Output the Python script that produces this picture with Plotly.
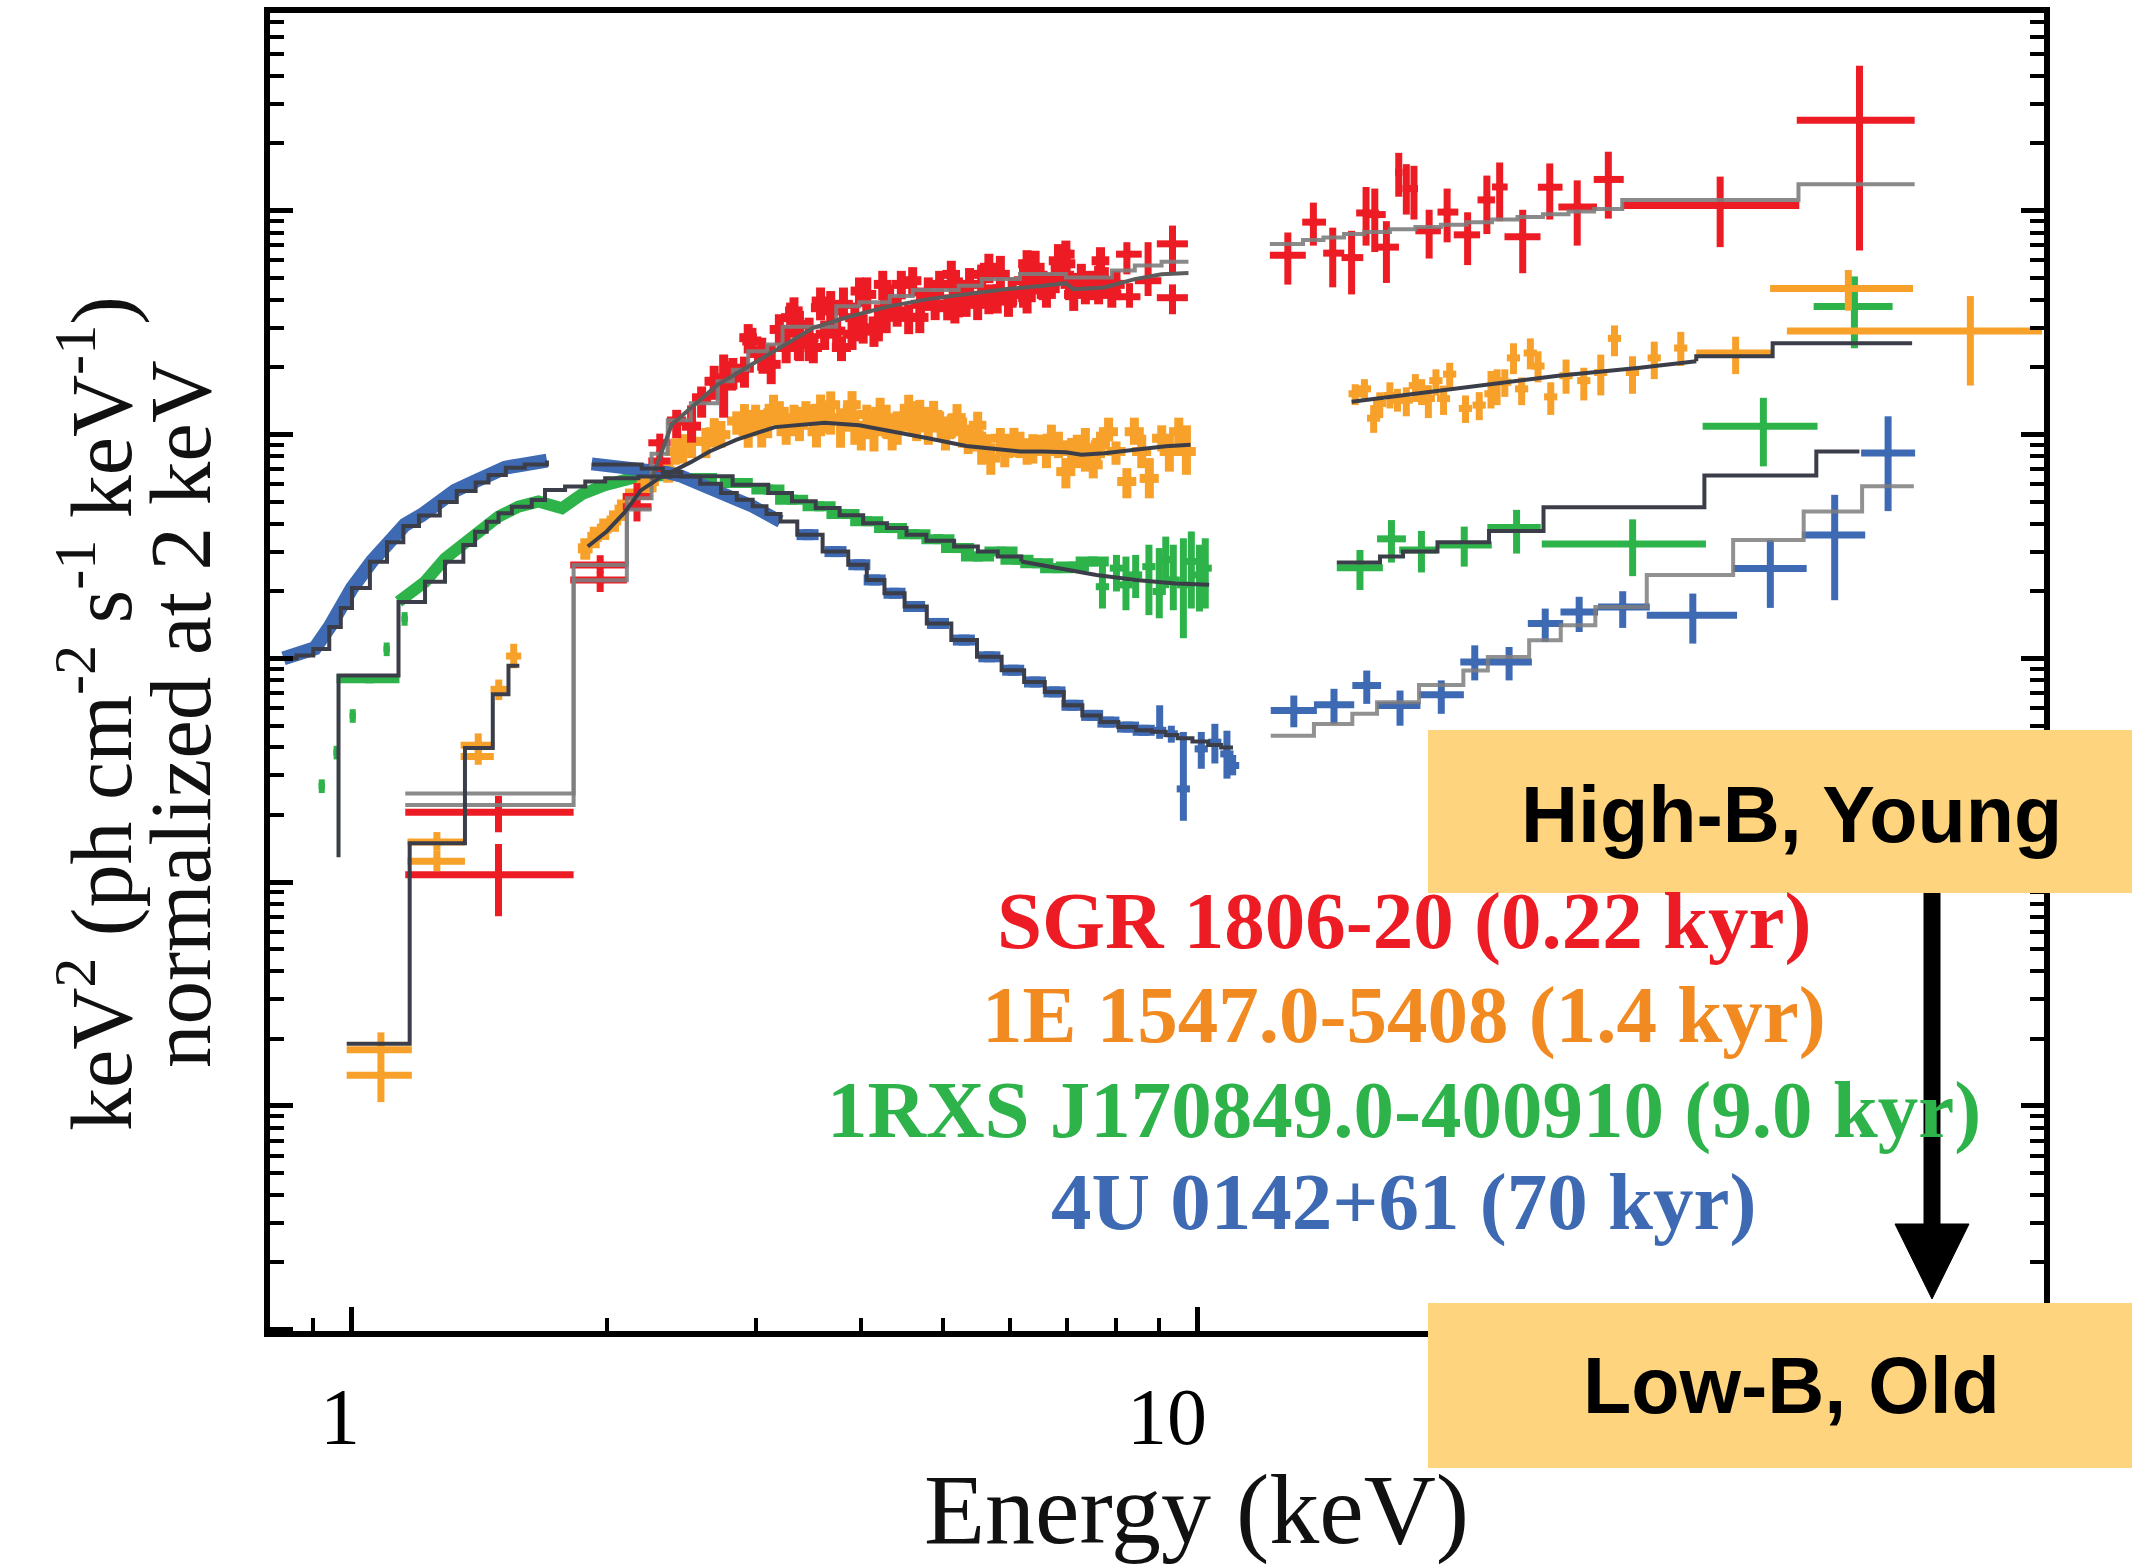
import math
import plotly.graph_objects as go

# ======================= DATA (keV, keV^2 flux normalised) =======================
# ---- SGR 1806-20 (red) ----
red_low_E   = [1.49, 1.49, 1.965, 1.965, 2.172, 2.172, 2.311, 2.311]
red_low_Elo = [1.156, 1.156, 1.811, 1.811, 2.09, 2.09, 2.24, 2.24]
red_low_Ehi = [1.828, 1.828, 2.113, 2.113, 2.26, 2.26, 2.38, 2.38]
red_low_F   = [0.205, 0.108, 2.61, 2.24, 5.29, 4.76, 9.19, 7.62]
red_low_Flo = [0.167, 0.0704, 2.40, 1.98, 4.90, 4.09, 8.30, 6.80]
red_low_Fhi = [0.243, 0.148, 2.89, 2.45, 6.07, 5.10, 10.1, 8.50]

red_mid_E = [2.42, 2.52, 2.59, 2.68, 2.75, 2.82, 2.91, 2.97, 3.05, 3.13, 3.20, 3.30, 3.38, 3.47, 3.58,
             3.68, 3.79, 3.81, 3.93, 4.06, 4.19, 4.32, 4.46, 4.55, 4.70, 4.80, 4.95, 5.06, 5.21, 5.37,
             5.55, 5.66, 5.84, 6.03, 6.22, 6.42, 6.62, 6.84, 6.98, 7.13, 7.36, 7.63, 7.91]
red_mid_F = [11.5, 10.9, 14.6, 17.3, 17.9, 17.9, 19.8, 26.2, 23.7, 20.6, 29.5, 33.3, 31.0, 27.1, 36.9,
             35.7, 24.5, 38.2, 33.3, 42.3, 32.2, 39.5, 46.9, 33.4, 38.2, 42.3, 46.9, 36.9, 42.3, 46.9,
             52.0, 40.9, 52.0, 42.3, 48.7, 55.9, 42.3, 59.8, 58.0, 42.3, 45.4, 50.4, 42.3]
red_mid_Flo = [9.64, 9.2, 11.9, 14.3, 11.9, 15.9, 16.2, 22.0, 19.3, 16.8, 25.3, 27.1, 21.3, 21.3, 32.4,
               29.1, 21.3, 32.4, 26.1, 34.8, 26.1, 33.4, 40.2, 28.1, 32.4, 35.7, 40.2, 32.4, 33.4, 38.2,
               42.3, 34.5, 42.3, 36.9, 36.9, 42.3, 36.9, 50.4, 47.1, 35.7, 38.2, 38.2, 36.9]
red_mid_Fhi = [12.9, 13.5, 16.4, 20.3, 22.8, 22.0, 22.3, 30.0, 27.1, 25.3, 34.5, 38.9, 35.7, 33.3, 40.2,
               43.8, 27.5, 45.4, 38.9, 50.4, 38.2, 46.9, 53.9, 38.2, 45.4, 50.4, 53.9, 42.3, 50.4, 55.5,
               57.5, 46.9, 62.9, 50.4, 57.5, 66.3, 50.4, 71.0, 67.3, 50.4, 53.9, 56.8, 48.7]
red_cloud_E = [2.81, 3.06, 3.26, 3.37, 3.51, 3.62, 3.74, 3.90, 4.02, 4.14, 4.28, 4.41, 4.69, 4.89, 5.16,
               5.32, 5.49, 5.79, 5.97, 6.28, 6.56, 6.78, 7.05, 7.28, 7.52, 7.75, 8.00,
               2.94, 3.33, 3.58, 3.98, 4.24, 4.60, 5.11, 5.66, 6.28, 6.98, 7.67]
red_cloud_F = [18.5, 22.0, 24.5, 25.3, 24.5, 28.1, 29.0, 28.1, 30.0, 29.0, 33.4, 35.7, 33.4, 38.2, 36.9,
               39.5, 38.2, 40.9, 39.5, 40.9, 46.9, 50.4, 46.9, 50.4, 46.9, 48.7, 46.9,
               27.1, 35.7, 39.5, 43.8, 46.9, 48.7, 52.0, 55.9, 58.0, 64.0, 59.8]
red_edge_E   = [8.24, 8.30, 8.73, 9.33, 9.33]
red_edge_Elo = [8.00, 8.05, 8.42, 8.94, 8.94]
red_edge_Ehi = [8.58, 8.55, 9.05, 9.73, 9.73]
red_edge_F   = [64.0, 41.3, 48.7, 71.2, 40.9]
red_edge_Flo = [52.0, 36.9, 41.6, 52.0, 34.5]
red_edge_Fhi = [72.4, 47.5, 72.4, 85.9, 46.9]
red_hi_E   = [12.77, 13.69, 14.43, 15.19, 15.80, 16.18, 16.70, 17.27, 17.63, 18.00, 18.76, 19.70, 20.83,
              21.95, 22.73, 24.20, 26.05, 28.07, 30.55, 41.42, 60.52]
red_hi_Elo = [12.16, 13.28, 14.06, 14.78, 15.38, 15.80, 16.25, 17.11, 17.45, 17.80, 18.07, 19.19, 20.06,
              21.40, 22.26, 23.03, 25.22, 26.67, 29.36, 31.73, 51.02]
red_hi_Ehi = [13.41, 14.17, 14.89, 15.68, 16.36, 16.67, 17.28, 17.44, 17.80, 18.20, 19.37, 20.31, 21.55,
              22.45, 23.23, 25.40, 26.97, 29.62, 31.86, 51.38, 70.33]
red_hi_F   = [63.3, 89.0, 64.7, 61.8, 97.8, 96.2, 68.8, 148.6, 125.7, 125.7, 81.4, 98.7, 78.1, 111.9,
              127.8, 76.6, 127.5, 103.9, 138.1, 105.6, 254.1]
red_hi_Flo = [46.8, 69.9, 45.5, 42.3, 69.9, 65.4, 47.6, 115.6, 96.2, 91.4, 61.2, 72.3, 57.2, 78.7,
              89.9, 52.6, 91.4, 69.9, 92.3, 68.8, 66.5]
red_hi_Fhi = [80.0, 108.8, 84.1, 81.4, 127.8, 125.7, 89.9, 181.6, 161.6, 158.9, 101.1, 125.7, 98.5, 143.7,
              164.4, 101.1, 162.8, 136.8, 183.7, 142.2, 444.8]
# red models
red_mdlA_E = [1.156, 1.828, 2.113, 2.26, 2.362, 2.515, 2.705, 2.819, 2.940, 3.097, 3.228, 3.736, 3.977,
              4.322, 4.601, 5.214, 5.552, 6.160, 6.980, 7.911, 8.420, 9.056, 9.744]
red_mdlA_F = [0.249, 2.61, 5.2, 8.2, 11.6, 13.8, 17.3, 19.5, 23.6, 25.3, 30.3, 37.5, 39.0,
              41.6, 44.3, 46.3, 49.6, 52.2, 50.4, 54.1, 57.0, 59.2, 59.2]
red_mdlB_low_E = [1.156, 1.828, 2.113, 2.26]
red_mdlB_low_F = [0.221, 2.236, 4.62, 4.62]
red_mdlB_E = [2.26, 2.387, 2.705, 3.162, 3.51, 3.895, 4.322, 4.797, 5.323, 5.908, 6.558, 6.98, 7.126,
              7.745, 8.42, 9.056, 9.744]
red_mdlB_F = [6.3, 11.07, 16.7, 23.6, 30.0, 33.9, 37.5, 40.3, 42.3, 44.6, 46.2, 47.5, 44.6,
              45.4, 49.5, 52.1, 52.7]
red_mdl_hi_E = [12.16, 13.31, 14.07, 14.88, 15.73, 16.86, 18.07, 19.37, 20.77, 22.26, 23.86, 25.57,
                27.41, 29.39, 31.73, 51.26, 70.33]
red_mdl_hi_F = [71.1, 74.1, 76.0, 78.7, 80.5, 82.8, 84.6, 86.7, 89.0, 91.4, 93.9, 96.4,
                99.2, 101.8, 111.7, 131.3, 131.3]

# ---- 1E 1547.0-5408 (orange) ----
or_low_E   = [1.082, 1.082, 1.26, 1.26, 1.410, 1.410, 1.491, 1.553]
or_low_Elo = [0.9857, 0.9857, 1.163, 1.163, 1.344, 1.344, 1.458, 1.521]
or_low_Ehi = [1.177, 1.177, 1.360, 1.360, 1.471, 1.471, 1.536, 1.585]
or_low_F   = [0.0178, 0.0137, 0.1513, 0.1238, 0.409, 0.364, 0.727, 1.024]
or_low_Flo = [0.0157, 0.0104, 0.138, 0.1119, 0.38, 0.3345, 0.651, 0.903]
or_low_Fhi = [0.0213, 0.0157, 0.1674, 0.138, 0.462, 0.39, 0.804, 1.162]
or_band_E = [1.887, 1.936, 1.987, 2.04, 2.085, 2.131, 2.20, 2.26, 2.365]
or_band_F = [3.10, 3.49, 3.80, 4.13, 4.62, 5.17, 5.78, 6.20, 6.85]
or_mid_E = [2.41, 2.52, 2.62, 2.73, 2.85, 2.94, 3.00, 3.10, 3.20, 3.26, 3.33, 3.44, 3.51, 3.58, 3.68,
            3.78, 3.85, 3.93, 4.06, 4.14, 4.28, 4.41, 4.51, 4.60, 4.69, 4.80, 4.95, 5.11, 5.27, 5.44,
            5.55, 5.69, 5.84, 5.97, 6.16, 6.28, 6.48, 6.62, 6.84, 6.98, 7.20, 7.36, 7.52, 7.67, 7.84,
            8.00, 8.24, 8.41, 8.58, 8.76, 9.06, 9.25, 9.49, 9.69]
or_mid_F = [8.40, 9.32, 9.32, 9.99, 11.5, 10.3, 12.3, 11.5, 12.7, 10.3, 11.9, 12.7, 11.9, 13.1, 13.6,
            11.9, 12.3, 11.0, 12.3, 10.3, 11.9, 11.0, 11.5, 12.3, 12.7, 10.7, 11.5, 11.0, 10.3, 9.99,
            9.0, 7.85, 9.63, 8.73, 9.0, 8.40, 9.0, 8.40, 9.0, 6.83, 8.12, 8.73, 7.33, 9.0, 10.3,
            8.40, 6.17, 10.3, 8.40, 6.37, 9.63, 8.40, 10.3, 8.40]
or_mid_Flo = [7.33, 7.85, 7.85, 8.73, 9.99, 8.73, 10.3, 9.63, 11.0, 9.0, 10.3, 11.0, 10.3, 11.5, 9.99,
              8.73, 10.3, 9.0, 10.3, 8.40, 9.63, 9.0, 10.3, 9.99, 10.3, 9.0, 10.3, 9.63, 8.73, 8.40,
              7.33, 6.61, 8.40, 7.85, 7.85, 7.33, 8.12, 7.08, 7.85, 5.75, 7.08, 6.83, 6.37, 7.85, 9.32,
              7.33, 5.19, 9.0, 7.08, 5.19, 8.40, 6.83, 8.73, 6.61]
or_mid_Fhi = [9.63, 10.7, 10.7, 11.5, 12.7, 11.9, 13.6, 13.1, 14.1, 12.3, 13.6, 14.1, 13.6, 15.1, 15.6,
              13.1, 13.6, 12.7, 13.6, 12.3, 13.6, 12.7, 13.1, 14.1, 14.3, 12.7, 12.7, 12.3, 11.9, 11.5,
              10.3, 9.0, 10.7, 9.99, 10.3, 9.63, 9.99, 9.32, 10.3, 7.85, 9.99, 10.7, 8.40, 10.3, 11.9,
              9.32, 7.08, 11.9, 9.99, 7.85, 11.0, 9.99, 11.9, 11.0]
or_cloud_E = [2.46, 2.68, 2.91, 3.05, 3.15, 3.38, 3.54, 3.62, 3.90, 4.00, 4.21, 4.35, 4.55, 4.65, 4.87,
              5.03, 5.19, 5.35, 5.49, 5.63, 5.91, 6.06, 6.38, 6.71, 7.09, 7.59]
or_cloud_F = [8.73, 10.3, 11.9, 10.3, 13.1, 11.0, 10.3, 11.9, 13.6, 9.99, 12.7, 9.99, 13.1, 11.0, 12.3,
              9.99, 11.9, 9.63, 11.0, 8.73, 8.40, 9.32, 8.73, 9.63, 8.40, 8.40]
or_hi_E = [15.34, 15.73, 16.13, 16.40, 16.86, 17.21, 17.63, 18.07, 18.38, 18.72, 19.11, 19.51, 19.84,
           20.71, 21.50, 22.20, 22.57, 23.05, 23.60, 24.13, 24.71, 25.23, 26.12, 27.23, 28.58, 29.93,
           31.07, 32.63, 34.62, 37.21]
or_hi_F = [15.22, 16.01, 11.84, 13.77, 14.96, 14.25, 14.25, 16.56, 15.48, 14.49, 17.42, 14.49, 18.63,
           13.09, 13.54, 15.22, 17.42, 17.12, 22.01, 16.01, 23.15, 20.24, 14.74, 18.32, 17.42, 18.94,
           26.91, 18.94, 22.01, 24.36]
or_hi_Flo = [13.54, 14.49, 10.18, 11.85, 13.08, 12.66, 12.07, 13.99, 13.54, 11.85, 14.96, 12.24, 16.03,
             11.27, 11.60, 13.08, 13.54, 14.74, 18.63, 13.54, 19.57, 17.12, 12.24, 15.22, 14.21, 14.96,
             22.39, 15.22, 17.69, 20.24]
or_hi_Fhi = [16.79, 17.69, 13.54, 15.45, 17.12, 16.01, 16.26, 18.63, 17.69, 16.62, 19.57, 16.56, 20.93,
             14.96, 15.48, 19.24, 19.57, 19.57, 25.59, 18.01, 26.91, 23.55, 17.12, 21.64, 19.90, 22.77,
             30.74, 22.39, 26.02, 28.78]
or_big_E   = [43.20, 58.71, 81.84]
or_big_Elo = [38.81, 47.45, 49.67]
or_big_Ehi = [47.78, 70.02, 99.45]
or_big_F   = [23.15, 44.93, 29.06]
or_big_Flo = [18.63, 35.79, 16.56]
or_big_Fhi = [27.37, 54.37, 41.59]
or_mdl_low_E = [0.9857, 1.170, 1.360, 1.467, 1.531, 1.577]
or_mdl_low_F = [0.01894, 0.149, 0.3976, 0.691, 0.926, 0.926]
or_mdl_E = [1.90, 2.0, 2.1, 2.195, 2.317, 2.515, 2.646, 2.849, 3.162, 3.62, 3.977, 4.322, 4.797, 5.323,
            5.79, 6.16, 6.56, 6.98, 7.28, 7.75, 8.42, 9.16, 9.80]
or_mdl_F = [3.16, 3.69, 4.49, 5.63, 6.45, 7.53, 8.40, 9.49, 10.8, 11.3, 11.0, 10.4, 9.63, 8.90,
            8.56, 8.40, 8.40, 8.33, 8.12, 8.26, 8.56, 8.87, 9.00]
or_mdl_hi_E = [15.19, 20.18, 26.66, 33.30, 38.81]
or_mdl_hi_F = [14.01, 16.01, 18.32, 19.90, 21.29]
or_mdl_hi2_E = [38.81, 38.81, 47.78, 69.84]
or_mdl_hi2_F = [21.29, 22.39, 25.62, 25.62]

# ---- 1RXS J170849.0-400910 (green) ----
gr_dot_E = [0.921, 0.959, 1.002, 1.099, 1.154]
gr_dot_F = [0.269, 0.380, 0.554, 1.10, 1.504]
gr_plat_E, gr_plat_Elo, gr_plat_Ehi, gr_plat_F = [1.049], [0.959], [1.138], [0.81]
gr_band_E = [1.135, 1.220, 1.288, 1.348, 1.411, 1.490, 1.573, 1.661, 1.771, 1.869, 1.990, 2.181, 2.388]
gr_band_F = [1.79, 2.20, 2.79, 3.21, 3.74, 4.30, 4.76, 5.02, 4.69, 5.41, 5.94, 6.50, 6.61]
gr_bin_E = [2.585, 2.849, 3.105, 3.312, 3.569, 3.809, 4.063, 4.335, 4.62, 4.932, 5.203, 5.493, 5.856,
            6.116, 6.455, 6.813, 7.112, 7.506]
gr_bin_F = [6.40, 6.08, 5.68, 5.12, 4.78, 4.42, 4.10, 3.82, 3.59, 3.41, 3.11, 2.85, 3.00,
            2.76, 2.66, 2.53, 2.57, 2.71]
gr_tail_E = [7.71, 8.01, 8.22, 8.44, 8.75, 9.0, 9.16, 9.35, 9.61, 9.82, 10.04, 10.20]
gr_tail_F = [2.09, 2.53, 2.13, 2.36, 2.57, 1.99, 2.76, 2.24, 2.13, 2.71, 2.36, 2.53]
gr_tail_Flo = [1.67, 1.99, 1.64, 1.86, 1.56, 1.51, 2.06, 1.64, 1.23, 1.67, 1.62, 1.67]
gr_tail_Fhi = [2.71, 2.90, 2.85, 2.90, 3.22, 3.11, 3.50, 3.22, 3.44, 3.69, 3.22, 3.44]
gr_hi_E   = [15.54, 16.93, 18.37, 20.64, 23.80, 32.64, 46.59, 59.69]
gr_hi_Elo = [14.59, 16.28, 17.29, 19.19, 21.98, 25.49, 39.49, 53.42]
gr_hi_Ehi = [16.54, 17.61, 19.19, 22.25, 25.42, 39.85, 53.99, 66.23]
gr_hi_F   = [2.54, 3.42, 3.05, 3.21, 3.84, 3.24, 10.9, 37.37]
gr_hi_Flo = [2.02, 2.68, 2.42, 2.57, 2.94, 2.33, 7.21, 24.3]
gr_hi_Fhi = [3.05, 4.15, 3.71, 3.88, 4.61, 4.18, 14.6, 50.9]
gr_mdl_low_E = [0.964, 0.964, 1.135, 1.220, 1.288, 1.354, 1.398, 1.443, 1.490, 1.545, 1.631, 1.691, 1.786,
                1.887, 1.992, 2.181, 2.388]
gr_mdl_low_F = [0.129, 0.838, 1.788, 2.198, 2.70, 3.21, 3.68, 4.08, 4.45, 4.76, 5.10, 5.66, 5.86,
                6.17, 6.38, 6.50, 6.50]
gr_mdl_mid_E = [2.373, 2.818, 3.105, 3.312, 3.533, 3.770, 4.020, 4.289, 4.524, 4.775, 5.149, 5.493, 5.798, 6.183]
gr_mdl_mid_F = [6.52, 5.97, 5.48, 5.03, 4.70, 4.36, 4.02, 3.82, 3.57, 3.35, 3.16, 3.00, 2.85, 2.71]
gr_mdl_sm_E = [6.183, 6.813, 7.585, 8.446, 9.41, 10.31]
gr_mdl_sm_F = [2.71, 2.53, 2.36, 2.24, 2.16, 2.13]
gr_mdl_hi_E = [14.59, 16.41, 17.47, 19.19, 22.08, 25.61, 39.68, 53.81, 60.51]
gr_mdl_hi_F = [2.68, 2.85, 3.00, 3.30, 3.71, 4.74, 6.56, 8.41, 8.41]

# ---- 4U 0142+61 (blue) ----
bl_low_E = [0.83, 0.849, 0.904, 0.942, 0.965, 1.0, 1.056, 1.106, 1.155, 1.21, 1.267, 1.323, 1.386, 1.452,
            1.517, 1.588, 1.70]
bl_low_F = [1.00, 1.02, 1.11, 1.39, 1.68, 2.06, 2.72, 3.35, 3.95, 4.38, 5.06, 5.61, 6.09, 6.62,
            7.11, 7.33, 7.65]
bl_band_E = [1.92, 2.0, 2.08, 2.18, 2.28, 2.36, 2.45, 2.58, 2.73, 2.85, 2.976, 3.09, 3.21]
bl_band_F = [7.4, 7.3, 7.2, 7.05, 6.95, 6.75, 6.52, 6.03, 5.48, 5.12, 4.78, 4.42, 4.09]
bl_bin_E = [3.457, 3.73, 3.98, 4.15, 4.38, 4.62, 4.93, 5.29, 5.67, 6.05, 6.42, 6.77, 7.11, 7.50, 7.84,
            8.27, 8.63]
bl_bin_F = [3.57, 3.00, 2.62, 2.24, 1.954, 1.705, 1.432, 1.207, 1.016, 0.885, 0.784, 0.708, 0.617,
            0.556, 0.519, 0.493, 0.477]
bl_tail_E = [9.01, 9.30, 9.61, 10.09, 10.47, 10.82, 10.99]
bl_tail_F = [0.477, 0.46, 0.261, 0.394, 0.422, 0.374, 0.332]
bl_tail_Flo = [0.437, 0.42, 0.188, 0.321, 0.339, 0.29, 0.30]
bl_tail_Fhi = [0.617, 0.50, 0.469, 0.469, 0.51, 0.475, 0.37]
bl_hi_E   = [12.98, 14.48, 15.83, 17.33, 19.39, 21.24, 23.32, 25.73, 28.22, 31.77, 38.45, 47.48, 56.57, 65.42]
bl_hi_Elo = [12.19, 13.71, 15.22, 16.27, 18.25, 20.42, 22.08, 24.54, 26.82, 29.71, 33.92, 42.91, 51.74, 60.79]
bl_hi_Ehi = [13.82, 15.30, 16.46, 18.32, 20.62, 22.08, 24.81, 27.02, 29.71, 34.2, 43.37, 52.42, 61.47, 70.41]
bl_hi_F   = [0.584, 0.62, 0.756, 0.615, 0.687, 0.963, 0.963, 1.431, 1.612, 1.698, 1.558, 2.523, 3.56, 8.27]
bl_hi_Flo = [0.492, 0.51, 0.626, 0.50, 0.565, 0.797, 0.797, 1.184, 1.311, 1.368, 1.164, 1.681, 1.819, 4.55]
bl_hi_Fhi = [0.682, 0.731, 0.882, 0.718, 0.797, 1.143, 1.124, 1.669, 1.884, 1.995, 1.948, 3.38, 5.38, 12.07]
bl_mdl_low_E = [0.83, 0.86, 0.9, 0.94, 0.97, 1.0, 1.05, 1.1, 1.15, 1.2, 1.27, 1.33, 1.4, 1.45, 1.52, 1.6, 1.7]
bl_mdl_low_F = [1.0, 1.03, 1.1, 1.38, 1.68, 2.06, 2.7, 3.3, 3.9, 4.35, 5.0, 5.6, 6.1, 6.6, 7.1, 7.35, 7.65]
bl_mdl_E = [1.92, 2.2, 2.33, 2.45, 2.58, 2.73, 2.85, 2.976, 3.09, 3.21, 3.36, 3.60, 3.86, 4.06, 4.26, 4.50,
            4.78, 5.11, 5.48, 5.86, 6.23, 6.59, 6.94, 7.30, 7.67, 8.05, 8.45, 8.82, 9.15, 9.46, 9.85,
            10.28, 10.65, 11.0]
bl_mdl_F = [7.35, 7.05, 6.8, 6.5, 6.03, 5.48, 5.12, 4.78, 4.42, 4.09, 3.57, 3.00, 2.62, 2.24, 1.954, 1.705,
            1.432, 1.207, 1.016, 0.885, 0.784, 0.708, 0.617, 0.556, 0.519, 0.493, 0.477, 0.47, 0.455, 0.44,
            0.425, 0.41, 0.40, 0.40]
bl_mdl_hi_E = [12.19, 13.71, 15.22, 16.28, 18.25, 20.59, 22.01, 24.63, 26.84, 29.49, 33.92, 42.91, 51.99,
               60.95, 70.17]
bl_mdl_hi_F = [0.451, 0.509, 0.565, 0.637, 0.761, 0.882, 1.013, 1.204, 1.405, 1.698, 2.355, 3.38, 4.53,
               5.87, 5.87]

legend_labels = ["SGR 1806-20 (0.22 kyr)", "1E 1547.0-5408 (1.4 kyr)",
                 "1RXS J170849.0-400910 (9.0 kyr)", "4U 0142+61 (70 kyr)"]

# ======================= STYLE =======================
RED = "#ED1C24"; ORANGE = "#F7A12B"; GREEN = "#2DB34A"; BLUE = "#3E69B3"
OR_TXT = "#F28A22"
DARK = "#3B3E48"; GRAY = "#7E7E7E"; MIDGRAY = "#5C5C5C"
SERIF = "Liberation Serif"; SANS = "Liberation Sans"
W, H = 2132, 1565
L, R, T, B = 270, 88, 13, 234

fig = go.Figure()


def cross(E, F, Flo, Fhi, color, thick, Elo=None, Ehi=None, xpct=2.0):
    ey = dict(type="data", symmetric=False, array=[h - f for f, h in zip(F, Fhi)],
              arrayminus=[f - l for f, l in zip(F, Flo)], thickness=thick, width=0, color=color)
    if Elo is not None:
        ex = dict(type="data", symmetric=False, array=[h - e for e, h in zip(E, Ehi)],
                  arrayminus=[e - l for e, l in zip(E, Elo)], thickness=thick, width=0, color=color)
    else:
        ex = dict(type="percent", value=xpct, thickness=thick, width=0, color=color)
    fig.add_trace(go.Scatter(x=E, y=F, mode="markers", marker=dict(size=thick, color=color, symbol="square"),
                             error_x=ex, error_y=ey, showlegend=False, hoverinfo="skip"))


def pcross(E, F, color, thick, ypct, xpct):
    fig.add_trace(go.Scatter(x=E, y=F, mode="markers", marker=dict(size=thick, color=color, symbol="square"),
                             error_x=dict(type="percent", value=xpct, thickness=thick, width=0, color=color),
                             error_y=dict(type="percent", value=ypct, thickness=thick, width=0, color=color),
                             showlegend=False, hoverinfo="skip"))


def line(E, F, color, width, shape="linear", opacity=1.0):
    fig.add_trace(go.Scatter(x=E, y=F, mode="lines", line=dict(color=color, width=width, shape=shape),
                             opacity=opacity, showlegend=False, hoverinfo="skip"))


# ---- data traces ----
# green
pcross(gr_dot_E, gr_dot_F, GREEN, 6, 7, 0.8)
cross(gr_plat_E, gr_plat_F, [0.79], [0.83], GREEN, 9, gr_plat_Elo, gr_plat_Ehi)
line(gr_band_E, gr_band_F, GREEN, 12)
pcross(gr_bin_E, gr_bin_F, GREEN, 10, 3.5, 4.5)
cross(gr_tail_E, gr_tail_F, gr_tail_Flo, gr_tail_Fhi, GREEN, 7, xpct=1.8)
cross(gr_hi_E, gr_hi_F, gr_hi_Flo, gr_hi_Fhi, GREEN, 7, gr_hi_Elo, gr_hi_Ehi)
# orange
cross(or_low_E, or_low_F, or_low_Flo, or_low_Fhi, ORANGE, 7, or_low_Elo, or_low_Ehi)
pcross(or_band_E, or_band_F, ORANGE, 10, 11, 2.0)
pcross(or_cloud_E, or_cloud_F, ORANGE, 9, 15, 2.4)
cross(or_mid_E, or_mid_F, or_mid_Flo, or_mid_Fhi, ORANGE, 9, xpct=2.6)
cross(or_hi_E, or_hi_F, or_hi_Flo, or_hi_Fhi, ORANGE, 7, xpct=1.8)
cross(or_big_E, or_big_F, or_big_Flo, or_big_Fhi, ORANGE, 7, or_big_Elo, or_big_Ehi)
# blue
line(bl_low_E, bl_low_F, BLUE, 14)
line(bl_band_E, bl_band_F, BLUE, 13)
pcross(bl_bin_E, bl_bin_F, BLUE, 11, 3.5, 3.0)
cross(bl_tail_E, bl_tail_F, bl_tail_Flo, bl_tail_Fhi, BLUE, 7, xpct=1.8)
cross(bl_hi_E, bl_hi_F, bl_hi_Flo, bl_hi_Fhi, BLUE, 7, bl_hi_Elo, bl_hi_Ehi)
# red
cross(red_low_E, red_low_F, red_low_Flo, red_low_Fhi, RED, 7, red_low_Elo, red_low_Ehi)
pcross(red_cloud_E, red_cloud_F, RED, 9, 15, 2.4)
cross(red_mid_E, red_mid_F, red_mid_Flo, red_mid_Fhi, RED, 9, xpct=2.6)
cross(red_edge_E, red_edge_F, red_edge_Flo, red_edge_Fhi, RED, 7, red_edge_Elo, red_edge_Ehi)
cross(red_hi_E, red_hi_F, red_hi_Flo, red_hi_Fhi, RED, 7, red_hi_Elo, red_hi_Ehi)

# ---- model traces ----
line(red_mdlA_E, red_mdlA_F, GRAY, 4, "hv", 0.9)
line(red_mdlB_low_E, red_mdlB_low_F, GRAY, 4, "hv", 0.9)
line(red_mdlB_E, red_mdlB_F, MIDGRAY, 4)
line(red_mdl_hi_E, red_mdl_hi_F, GRAY, 4, "hv", 0.9)
line(or_mdl_low_E, or_mdl_low_F, DARK, 4, "hv")
line(or_mdl_E, or_mdl_F, DARK, 4)
line(or_mdl_hi_E, or_mdl_hi_F, DARK, 4)
line(or_mdl_hi2_E, or_mdl_hi2_F, DARK, 4, "hv")
line(gr_mdl_low_E, gr_mdl_low_F, DARK, 4, "hv")
line(gr_mdl_mid_E, gr_mdl_mid_F, DARK, 4, "hv")
line(gr_mdl_sm_E, gr_mdl_sm_F, DARK, 4)
line(gr_mdl_hi_E, gr_mdl_hi_F, DARK, 4, "hv")
line(bl_mdl_low_E, bl_mdl_low_F, DARK, 4, "hv")
line(bl_mdl_E, bl_mdl_F, DARK, 4, "hv")
line(bl_mdl_hi_E, bl_mdl_hi_F, GRAY, 4, "hv", 0.85)

# ======================= AXES =======================
x_minor = [0.9] + [m for m in range(2, 10)] + [10 * m for m in range(2, 10)]
y_major = [10.0 ** k for k in range(-3, 3)]
y_minor = [m * 10.0 ** k for k in range(-3, 3) for m in range(2, 10)]

fig.update_xaxes(type="log", range=[math.log10(0.8), 2.0], tickmode="array", tickvals=[1, 10, 100],
                 showticklabels=False, ticks="inside", ticklen=24, tickwidth=4.5, tickcolor="black",
                 showline=True, linewidth=6, linecolor="black", mirror=True, showgrid=False, zeroline=False,
                 minor=dict(tickmode="array", tickvals=x_minor, ticks="inside", ticklen=13, tickwidth=4,
                            tickcolor="black", showgrid=False))
fig.update_yaxes(type="log", range=[-3.006, 2.884], tickmode="array", tickvals=y_major,
                 showticklabels=False, ticks="inside", ticklen=23, tickwidth=4.5, tickcolor="black",
                 showline=True, linewidth=6, linecolor="black", mirror="allticks", showgrid=False,
                 zeroline=False,
                 minor=dict(tickmode="array", tickvals=y_minor, ticks="inside", ticklen=14, tickwidth=4,
                            tickcolor="black", showgrid=False))


def px(xp):
    return (xp - L) / (W - L - R)


def py(yp):
    return (H - B - yp) / (H - T - B)


ann = []
# tick labels
ann.append(dict(x=0, y=py(1417), xref="x", yref="paper", text="1", showarrow=False, xshift=-12,
                font=dict(family=SERIF, size=80, color="black"), xanchor="center", yanchor="middle"))
ann.append(dict(x=1, y=py(1417), xref="x", yref="paper", text="10", showarrow=False, xshift=-31,
                font=dict(family=SERIF, size=80, color="black"), xanchor="center", yanchor="middle"))
# axis titles
ann.append(dict(x=px(1196), y=py(1509), xref="paper", yref="paper", text="Energy (keV)", showarrow=False,
                font=dict(family=SERIF, size=100, color="#111111"), xanchor="center", yanchor="middle"))
ann.append(dict(x=px(95), y=py(714), xref="paper", yref="paper", textangle=-90,
                text="keV<sup>2</sup> (ph cm<sup>-2</sup> s<sup>-1</sup> keV<sup>-1</sup>)", showarrow=False,
                font=dict(family=SERIF, size=86, color="#111111"), xanchor="center", yanchor="middle"))
ann.append(dict(x=px(180), y=py(714), xref="paper", yref="paper", textangle=-90,
                text="normalized at 2 keV", showarrow=False,
                font=dict(family=SERIF, size=87, color="#111111"), xanchor="center", yanchor="middle"))
# source labels
for lbl, col, yy in zip(legend_labels, [RED, OR_TXT, GREEN, BLUE], [920.7, 1014.6, 1110.4, 1201.6]):
    ann.append(dict(x=px(1403.5), y=py(yy), xref="paper", yref="paper", text="<b>%s</b>" % lbl,
                    showarrow=False, font=dict(family=SERIF, size=81, color=col),
                    xanchor="center", yanchor="middle"))
# box labels
ann.append(dict(x=px(1791), y=py(814.6), xref="paper", yref="paper", text="<b>High-B, Young</b>",
                showarrow=False, font=dict(family=SANS, size=79, color="black"),
                xanchor="center", yanchor="middle"))
ann.append(dict(x=px(1791), y=py(1385), xref="paper", yref="paper", text="<b>Low-B, Old</b>",
                showarrow=False, font=dict(family=SANS, size=79, color="black"),
                xanchor="center", yanchor="middle"))

BOX = "#FED47E"
shapes = [
    dict(type="rect", xref="paper", yref="paper", x0=px(1428), x1=px(2140), y0=py(893), y1=py(730),
         fillcolor=BOX, line=dict(width=0), layer="above"),
    dict(type="rect", xref="paper", yref="paper", x0=px(1428), x1=px(2140), y0=py(1468), y1=py(1303),
         fillcolor=BOX, line=dict(width=0), layer="above"),
    dict(type="line", xref="paper", yref="paper", x0=px(1932), x1=px(1932), y0=py(893), y1=py(1232),
         line=dict(color="black", width=17), layer="above"),
    dict(type="path", xref="paper", yref="paper",
         path="M %f,%f L %f,%f L %f,%f Z" % (px(1895), py(1224), px(1969), py(1224), px(1932), py(1299)),
         fillcolor="black", line=dict(color="black", width=1), layer="above"),
]

fig.update_layout(width=W, height=H, margin=dict(l=L, r=R, t=T, b=B, autoexpand=False),
                  paper_bgcolor="white", plot_bgcolor="white", showlegend=False,
                  annotations=ann, shapes=shapes)

fig.write_html("out.html")
